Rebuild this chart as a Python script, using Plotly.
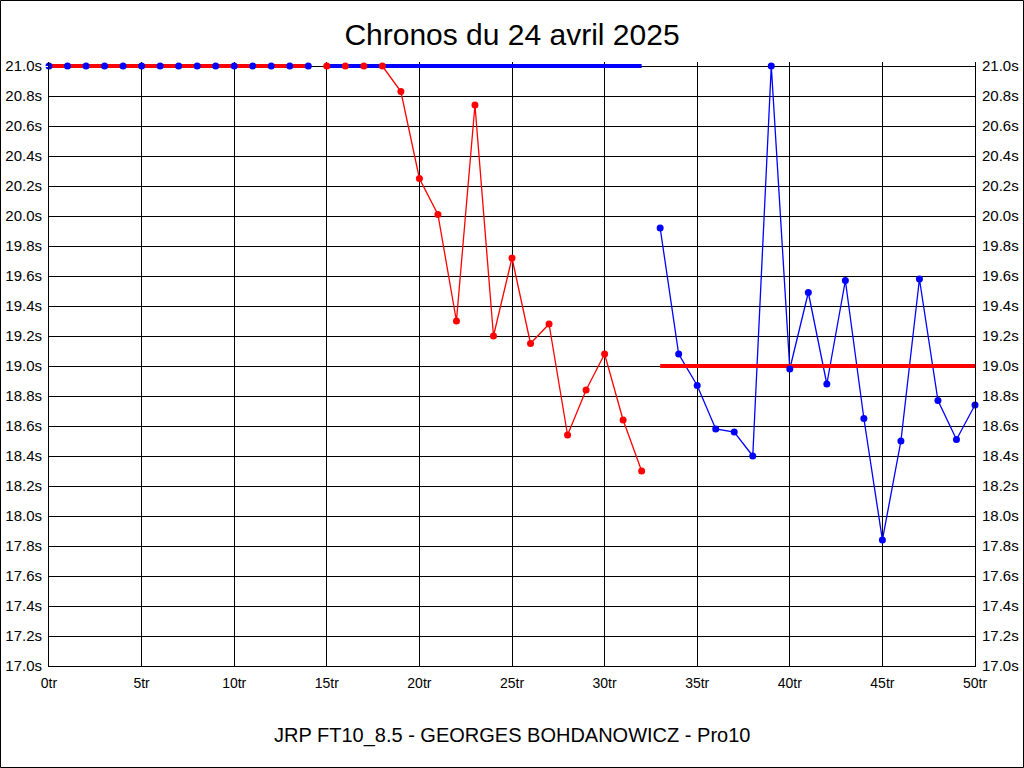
import plotly.graph_objects as go

# ---- data ----
laps_blue_a = list(range(0, 15))
times_blue_a = [21.0] * 15

laps_red = list(range(15, 33))
times_red = [21.0, 21.0, 21.0, 21.0, 20.83, 20.25, 20.01, 19.30, 20.74, 19.20,
             19.72, 19.15, 19.28, 18.54, 18.84, 19.08, 18.64, 18.30]

laps_blue_b = list(range(33, 51))
times_blue_b = [19.92, 19.08, 18.87, 18.58, 18.56, 18.40, 21.0, 18.98, 19.49, 18.88,
                19.57, 18.65, 17.84, 18.50, 19.58, 18.77, 18.51, 18.74]

# thick reference lines: (start lap, end lap, level, colour)
ref_starts = [0, 15, 33]
ref_ends = [14, 32, 50]
ref_levels = [21.0, 21.0, 19.0]
ref_colors = ["#ff0000", "#0000ff", "#ff0000"]

title_text = "Chronos du 24 avril 2025"
footer_text = "JRP FT10_8.5 - GEORGES BOHDANOWICZ - Pro10"

BLUE = "#0000ff"
RED = "#ff0000"

fig = go.Figure()

blue_x = laps_blue_a + [None] + laps_blue_b
blue_y = times_blue_a + [None] + times_blue_b

# thin lines
fig.add_trace(go.Scatter(x=blue_x, y=blue_y, mode="lines", line=dict(color=BLUE, width=1.3),
                         connectgaps=False, cliponaxis=False, hoverinfo="skip"))
fig.add_trace(go.Scatter(x=laps_red, y=times_red, mode="lines", line=dict(color=RED, width=1.3),
                         cliponaxis=False, hoverinfo="skip"))
# thick reference lines
for s, e, lv, c in zip(ref_starts, ref_ends, ref_levels, ref_colors):
    fig.add_trace(go.Scatter(x=[s, e], y=[lv, lv], mode="lines", line=dict(color=c, width=4),
                             cliponaxis=False, hoverinfo="skip"))
# markers
fig.add_trace(go.Scatter(x=blue_x, y=blue_y, mode="markers", marker=dict(color=BLUE, size=7),
                         cliponaxis=False))
fig.add_trace(go.Scatter(x=laps_red, y=times_red, mode="markers", marker=dict(color=RED, size=7),
                         cliponaxis=False))
# dummy trace for right axis
fig.add_trace(go.Scatter(x=[0], y=[21.0], yaxis="y2", mode="markers", marker=dict(opacity=0),
                         hoverinfo="skip"))

W, H = 1024, 768
PX_PER_S = 150.0
EXTRA = 4  # pixels above the 21.0 line so thick lines are not clipped
L, R, T, B = 49, 49, 66 - EXTRA, 102
pw, ph = W - L - R, H - T - B
ymax = 21.0 + EXTRA / PX_PER_S

font_main = "Liberation Sans, Arial, sans-serif"

yax = dict(range=[17.0, ymax], tickmode="linear", tick0=17.0, dtick=0.2,
           tickformat=".1f", ticksuffix="s",
           showgrid=True, gridcolor="black", gridwidth=1, zeroline=False,
           showline=True, linecolor="black", linewidth=1,
           ticks="outside", ticklen=3, tickcolor="white", automargin=False,
           tickfont=dict(family=font_main, size=15, color="#000000"), fixedrange=True)

def py(pix):
    # pixel row -> paper y coordinate
    return (H - B - pix) / ph

fig.update_layout(
    width=W, height=H,
    margin=dict(l=L, r=R, t=T, b=B, pad=0, autoexpand=False),
    paper_bgcolor="white", plot_bgcolor="white",
    showlegend=False,
    title=dict(text=title_text, x=0.5, xanchor="center", y=1 - 34 / H, yanchor="middle",
               font=dict(family=font_main, size=30, color="black"), automargin=False),
    xaxis=dict(range=[0, 50], dtick=5, tick0=0, ticksuffix="tr",
               showgrid=True, gridcolor="black", gridwidth=1, zeroline=False,
               showline=True, linecolor="black", linewidth=1,
               ticks="outside", ticklen=4, tickcolor="white", automargin=False,
               tickfont=dict(family=font_main, size=14, color="black"), fixedrange=True),
    yaxis=yax,
    yaxis2=dict(**{k: v for k, v in yax.items() if k not in ("showgrid",)}, showgrid=False,
                overlaying="y", side="right"),
    annotations=[dict(text=footer_text, xref="paper", yref="paper", x=0.5, y=py(735),
                      xanchor="center", yanchor="middle", showarrow=False,
                      font=dict(family=font_main, size=20, color="black"))],
    shapes=[dict(type="rect", xref="paper", yref="paper",
                 x0=(0.5 - L) / pw, x1=(W - 0.5 - L) / pw,
                 y0=py(H - 0.5), y1=py(0.5),
                 line=dict(color="black", width=1), fillcolor="rgba(0,0,0,0)", layer="above")],
)

fig.write_html("out.html", config={"displayModeBar": False},
               post_script="document.body.style.margin='0';document.body.style.padding='0';")
